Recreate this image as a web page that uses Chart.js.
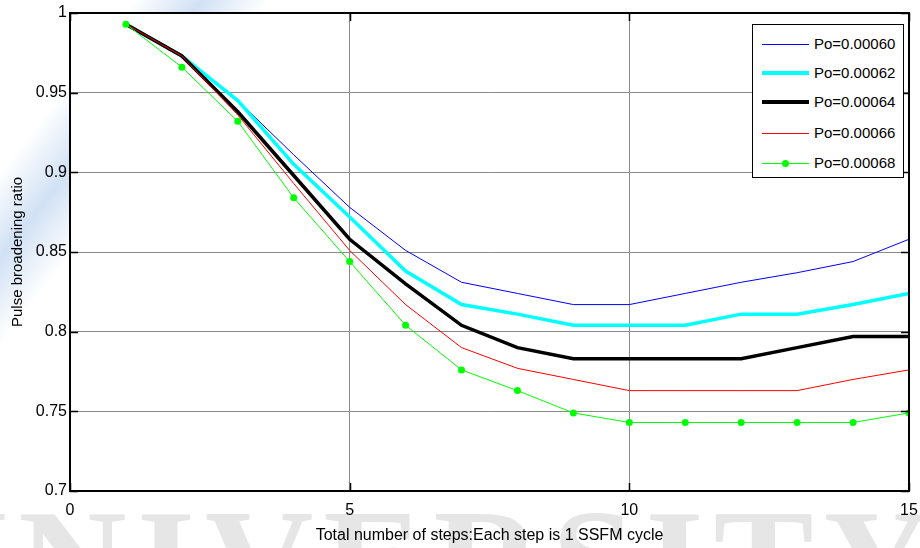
<!DOCTYPE html>
<html>
<head>
<meta charset="utf-8">
<script src="https://cdn.jsdelivr.net/npm/chart.js@4.4.0/dist/chart.umd.min.js"></script>
<style>
    html, body { margin: 0; padding: 0; background: #fff; }
    #wrap {
        position: relative; width: 920px; height: 548px; overflow: hidden;
        background: linear-gradient(128deg, rgba(255,255,255,0) 10%, rgba(190,212,240,0.7) 15%, rgba(255,255,255,0) 20%);
    }
    #wm {
        position: absolute; left: -100px; top: 487px; white-space: nowrap;
        font: bold 150px/1 "Liberation Serif", serif; letter-spacing: 10px; color: #e6e6e6;
    }
    #chart-box { position: absolute; left: 0; top: 0; width: 920px; height: 548px; }
    #legend {
        position: absolute; left: 752px; top: 24px; width: 152px; height: 154px;
        border: 1px solid #000; background: #fff; box-sizing: border-box;
        font: 15px "Liberation Sans", Arial, sans-serif; color: #000;
    }
    .item { position: absolute; left: 0; height: 20px; width: 150px; }
    .sample { position: absolute; left: 9px; width: 47px; }
    .dot { position: absolute; left: 20px; top: -3px; width: 7px; height: 7px; border-radius: 50%; background: #00ff00; }
    .label { position: absolute; left: 61px; top: 1px; }
</style>
</head>
<body>
<div id="wrap">
    <div id="wm">UNIVERSITY</div>
    <div id="chart-box"><canvas id="plot"></canvas></div>
    <div id="legend"></div>
</div>
<script>
// Data
const steps = [1, 2, 3, 4, 5, 6, 7, 8, 9, 10, 11, 12, 13, 14, 15];
const p060 = [0.993, 0.973, 0.945, 0.911, 0.878, 0.851, 0.831, 0.824, 0.817, 0.817, 0.824, 0.831, 0.837, 0.844, 0.858];
const p062 = [0.993, 0.973, 0.945, 0.905, 0.872, 0.838, 0.817, 0.811, 0.804, 0.804, 0.804, 0.811, 0.811, 0.817, 0.824];
const p064 = [0.993, 0.973, 0.938, 0.898, 0.858, 0.830, 0.804, 0.790, 0.783, 0.783, 0.783, 0.783, 0.790, 0.797, 0.797];
const p066 = [0.993, 0.973, 0.936, 0.893, 0.851, 0.817, 0.790, 0.777, 0.770, 0.763, 0.763, 0.763, 0.763, 0.770, 0.776];
const p068 = [0.993, 0.966, 0.932, 0.884, 0.844, 0.804, 0.776, 0.763, 0.749, 0.743, 0.743, 0.743, 0.743, 0.743, 0.749];
const seriesNames = ['Po=0.00060', 'Po=0.00062', 'Po=0.00064', 'Po=0.00066', 'Po=0.00068'];
const xTicks = [0, 5, 10, 15];
const yTicks = [0.7, 0.75, 0.8, 0.85, 0.9, 0.95, 1];

const colors = ['#0000ff', '#00ffff', '#000000', '#ff0000', '#00ff00'];
const widths = [1, 3.5, 3.5, 1, 1];
const allSeries = [p060, p062, p064, p066, p068];

const datasets = allSeries.map((vals, i) => ({
    label: seriesNames[i],
    data: vals.map((v, k) => ({ x: steps[k], y: v })),
    borderColor: colors[i],
    backgroundColor: colors[i],
    borderWidth: widths[i],
    pointRadius: i === 4 ? 3.5 : 0,
    pointBorderWidth: 0,
    tension: 0,
    order: 5 - i // later series on top, like the original
}));

// white plot area, full box and inward ticks
const frame = {
    id: 'frame',
    beforeDraw(chart) {
        const { ctx, chartArea: a } = chart;
        ctx.save();
        ctx.fillStyle = '#fff';
        ctx.fillRect(a.left, a.top, a.right - a.left, a.bottom - a.top);
        ctx.restore();
    },
    afterDraw(chart) {
        const { ctx, chartArea: a, scales } = chart;
        const len = 8;
        ctx.save();
        ctx.strokeStyle = '#000';
        ctx.lineWidth = 1.5;
        ctx.beginPath();
        yTicks.forEach(v => {
            const y = Math.round(scales.y.getPixelForValue(v)) + 0.5;
            ctx.moveTo(a.left, y); ctx.lineTo(a.left + len, y);
            ctx.moveTo(a.right, y); ctx.lineTo(a.right - len, y);
        });
        xTicks.forEach(v => {
            const x = Math.round(scales.x.getPixelForValue(v)) + 0.5;
            ctx.moveTo(x, a.bottom); ctx.lineTo(x, a.bottom - len);
            ctx.moveTo(x, a.top); ctx.lineTo(x, a.top + len);
        });
        ctx.stroke();
        ctx.lineWidth = 2;
        ctx.strokeRect(a.left, a.top, a.right - a.left, a.bottom - a.top);
        ctx.restore();
    }
};

const tickFont = { family: '"Liberation Sans", Arial, sans-serif', size: 16 };

new Chart(document.getElementById('plot'), {
    type: 'line',
    data: { datasets: datasets },
    options: {
        responsive: true,
        maintainAspectRatio: false,
        animation: false,
        layout: { padding: { top: 13, right: 11, left: 0, bottom: 0 } },
        plugins: {
            legend: { display: false },
            tooltip: { enabled: false }
        },
        scales: {
            x: {
                type: 'linear',
                min: 0,
                max: 15,
                afterBuildTicks: scale => { scale.ticks = xTicks.map(v => ({ value: v })); },
                afterFit: scale => {
                    scale.height = 57;
                    scale.paddingLeft = 0;
                    scale.paddingRight = 0;
                },
                grid: { color: '#8a8a8a', lineWidth: 1, drawTicks: false },
                border: { display: false },
                ticks: { color: '#000', font: tickFont, padding: 10, maxRotation: 0 },
                title: {
                    display: true,
                    text: 'Total number of steps:Each step is 1 SSFM cycle',
                    color: '#000',
                    font: { family: '"Liberation Sans", Arial, sans-serif', size: 16 },
                    padding: { top: 0, bottom: 3 }
                }
            },
            y: {
                min: 0.7,
                max: 1,
                afterBuildTicks: scale => { scale.ticks = yTicks.map(v => ({ value: v })); },
                afterFit: scale => {
                    scale.width = 70;
                    scale.paddingTop = 0;
                    scale.paddingBottom = 0;
                },
                grid: { color: '#8a8a8a', lineWidth: 1, drawTicks: false },
                border: { display: false },
                ticks: {
                    color: '#000',
                    font: tickFont,
                    padding: 3,
                    callback: v => String(parseFloat(v.toFixed(2)))
                },
                title: {
                    display: true,
                    text: 'Pulse broadening ratio',
                    color: '#000',
                    font: { family: '"Liberation Sans", Arial, sans-serif', size: 15 },
                    padding: { top: 9, bottom: 0 }
                }
            }
        }
    },
    plugins: [frame]
});

// legend box, drawn as html
const legendEl = document.getElementById('legend');
const rowY = [43, 72, 101, 132, 162];
seriesNames.forEach((name, i) => {
    const item = document.createElement('div');
    item.className = 'item';
    item.style.top = (rowY[i] - 24 - 10) + 'px';
    const h = Math.round(widths[i]);
    const sample = document.createElement('div');
    sample.className = 'sample';
    sample.style.height = h + 'px';
    sample.style.top = (10 - Math.floor(h / 2)) + 'px';
    sample.style.background = colors[i];
    if (i === 4) {
        const dot = document.createElement('div');
        dot.className = 'dot';
        sample.appendChild(dot);
    }
    const label = document.createElement('span');
    label.className = 'label';
    label.textContent = name;
    item.appendChild(sample);
    item.appendChild(label);
    legendEl.appendChild(item);
});
</script>
</body>
</html>
